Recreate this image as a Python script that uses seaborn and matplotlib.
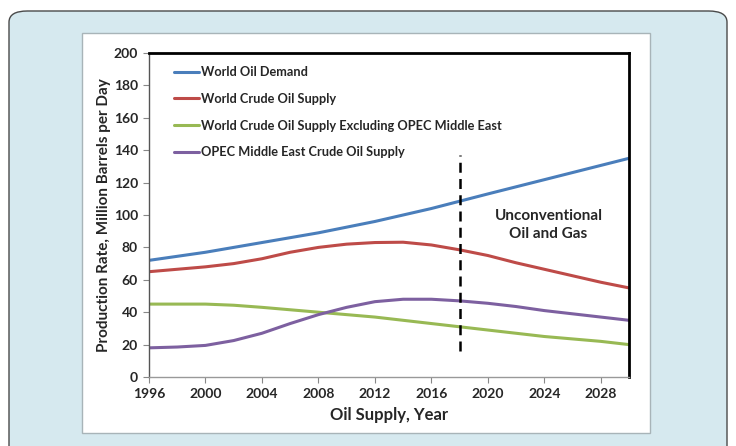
import numpy as np
import pandas as pd
import seaborn as sns
import matplotlib.pyplot as plt
from matplotlib.patches import FancyBboxPatch, Rectangle

anos = [1996, 1998, 2000, 2002, 2004, 2006, 2008, 2010, 2012, 2014, 2016, 2018, 2020, 2022, 2024, 2026, 2028, 2030]
demanda = [72, 74.5, 77, 80, 83, 86, 89, 92.5, 96, 100, 104, 108.5, 113, 117.4, 121.8, 126.2, 130.6, 135]
oferta = [65, 66.5, 68, 70, 73, 77, 80, 82, 83, 83.2, 81.5, 78.5, 75, 70.5, 66.5, 62.5, 58.5, 55]
oferta_sem_opep = [45, 45, 45, 44.3, 43, 41.5, 40, 38.5, 37, 35, 33, 31, 29, 27, 25, 23.5, 22, 20]
opep = [18, 18.5, 19.5, 22.5, 27, 33, 38.5, 43, 46.5, 48, 48, 47, 45.5, 43.5, 41, 39, 37, 35]

nomes = ["World Oil Demand", "World Crude Oil Supply",
         "World Crude Oil Supply Excluding OPEC Middle East",
         "OPEC Middle East Crude Oil Supply"]
cores = ["#4a7ebb", "#be4b48", "#98b954", "#7d60a0"]

ano_corte = 2018
corte_y = [16, 137]

sns.set_style("white")
plt.rcParams["font.family"] = ["Lato", "DejaVu Sans"]
plt.rcParams["font.weight"] = "bold"

fig = plt.figure(figsize=(7.36, 4.46), dpi=100)
fig.patch.set_facecolor("white")

# moldura azul e painel branco
fig.patches.append(FancyBboxPatch((9 / 736, -0.05), 718 / 736, 1 - 11 / 446 + 0.05,
                                  boxstyle="round,pad=0,rounding_size=0.025",
                                  transform=fig.transFigure, facecolor="#d6e9ef",
                                  edgecolor="#4a4a4a", linewidth=1.0, zorder=0))
fig.patches.append(Rectangle((82 / 736, 1 - 433 / 446), 568 / 736, 400 / 446,
                             transform=fig.transFigure, facecolor="white",
                             edgecolor="#a8b4b8", linewidth=1.0, zorder=1))

ax = fig.add_axes([149 / 736, 1 - 377 / 446, 480 / 736, 324 / 446])
ax.set_zorder(2)

dados = pd.DataFrame({"Ano": anos})
for nome, serie in zip(nomes, [demanda, oferta, oferta_sem_opep, opep]):
    dados[nome] = serie
longo = dados.melt(id_vars="Ano", var_name="Serie", value_name="Valor")

sns.lineplot(data=longo, x="Ano", y="Valor", hue="Serie", hue_order=nomes,
             palette=cores, linewidth=2.2, ax=ax)

ax.plot([ano_corte, ano_corte], corte_y, color="black", linestyle=(0, (4, 2.5)),
        linewidth=1.8)
ax.text(2024.3, 94, "Unconventional\nOil and Gas", ha="center", va="center",
        fontsize=11, fontweight="bold", linespacing=1.35)

ax.set_xlim(1996, 2030)
ax.set_ylim(0, 200)
ax.set_xticks(range(1996, 2029, 4))
ax.set_yticks(range(0, 201, 20))
ax.tick_params(axis="both", labelsize=10, direction="out", length=4, width=0.8,
               color="#888888", left=True, bottom=True, pad=4)
for t in ax.get_xticklabels() + ax.get_yticklabels():
    t.set_fontweight("bold")

for lado in ["top", "right"]:
    ax.spines[lado].set_color("black")
    ax.spines[lado].set_linewidth(2.0)
ax.spines["left"].set_color("#555555")
ax.spines["left"].set_linewidth(1.0)
ax.spines["bottom"].set_color("#999999")
ax.spines["bottom"].set_linewidth(1.0)

ax.set_xlabel("Oil Supply, Year", fontsize=12, fontweight="bold", labelpad=5)
ax.set_ylabel("Production Rate, Million Barrels per Day", fontsize=11,
              fontweight="bold", labelpad=2)

ax.legend(loc="upper left", bbox_to_anchor=(0.028, 0.995), frameon=False,
          handlelength=2.0, handletextpad=0.1, labelspacing=1.15,
          prop={"weight": "bold", "size": 9.2})

plt.savefig("out.png", dpi=100)
